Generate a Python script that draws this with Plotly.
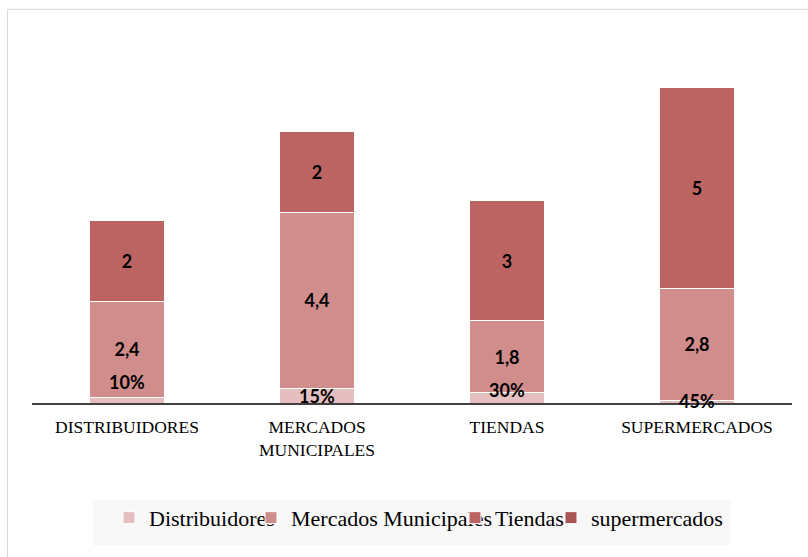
import plotly.graph_objects as go

categories = ["DISTRIBUIDORES", "MERCADOS<br>MUNICIPALES", "TIENDAS", "SUPERMERCADOS"]

# bottom segment (Distribuidores) – heights, labels as printed
distribuidores = [0.14, 0.36, 0.25, 0.065]
distribuidores_labels = ["10%", "15%", "30%", "45%"]
pct_label_shift = [18, 0, 8, 1]

mercados = [2.4, 4.4, 1.8, 2.8]
mercados_labels = ["2,4", "4,4", "1,8", "2,8"]

tiendas = [2, 2, 3, 5]
tiendas_labels = ["2", "2", "3", "5"]

supermercados = [None, None, None, None]

label_font = dict(family="Lato, Carlito, sans-serif", size=18, color="#000000")

fig = go.Figure()
fig.add_trace(go.Bar(
    x=categories, y=distribuidores, name="Distribuidores",
    marker=dict(color="#E5BFBF", line=dict(color="white", width=1)),
    legendwidth=97,
))
fig.add_trace(go.Bar(
    x=categories, y=mercados, name="Mercados Municipales",
    marker=dict(color="#D08D8C", line=dict(color="white", width=1)),
    text=["<b>%s</b>" % t for t in mercados_labels], textposition="inside",
    insidetextanchor="middle", textangle=0, textfont=label_font,
    legendwidth=159,
))
fig.add_trace(go.Bar(
    x=categories, y=tiendas, name="Tiendas",
    marker=dict(color="#BC6462", line=dict(color="white", width=1)),
    text=["<b>%s</b>" % t for t in tiendas_labels], textposition="inside",
    insidetextanchor="middle", textangle=0, textfont=label_font,
    legendwidth=51,
))
fig.add_trace(go.Bar(
    x=categories, y=supermercados, name="supermercados",
    marker=dict(color="#A95553", line=dict(color="white", width=1)),
))

for c, v, t, s in zip(categories, distribuidores, distribuidores_labels, pct_label_shift):
    fig.add_annotation(x=c, y=v / 2, text="<b>%s</b>" % t, showarrow=False,
                       yshift=s, font=label_font, xref="x", yref="y")

fig.update_layout(
    barmode="stack",
    bargap=0.605,
    width=808, height=557,
    margin=dict(l=32, r=16, t=20, b=154),
    paper_bgcolor="white", plot_bgcolor="white",
    showlegend=True,
    legend=dict(
        orientation="h", x=0.1013, xanchor="left", y=-0.245, yanchor="top",
        bgcolor="rgba(0,0,0,0)",
        font=dict(family="Liberation Serif, Times New Roman, serif", size=22, color="#000000"),
        traceorder="normal",
    ),
    xaxis=dict(
        showline=True, linecolor="#404040", linewidth=2.4,
        ticks="", showgrid=False, zeroline=False, ticklabelstandoff=7,
        tickfont=dict(family="Liberation Serif, Times New Roman, serif", size=17.5, color="#000000"),
    ),
    yaxis=dict(range=[0, 9.55], visible=False, showgrid=False, zeroline=False),
    shapes=[
        dict(type="rect", xref="paper", yref="paper",
             x0=-0.0322, x1=1.2, y0=-0.6, y1=1.028,
             line=dict(color="#D9D9D9", width=1), fillcolor="rgba(0,0,0,0)", layer="below"),
        dict(type="rect", xref="paper", yref="paper",
             x0=0.0803, x1=0.9184, y0=-0.3726, y1=-0.2533,
             line=dict(width=0), fillcolor="#F8F8F8", layer="below"),
    ],
)

fig.write_html("out.html", config={"displayModeBar": False},
               post_script="document.body.style.margin='0';")
